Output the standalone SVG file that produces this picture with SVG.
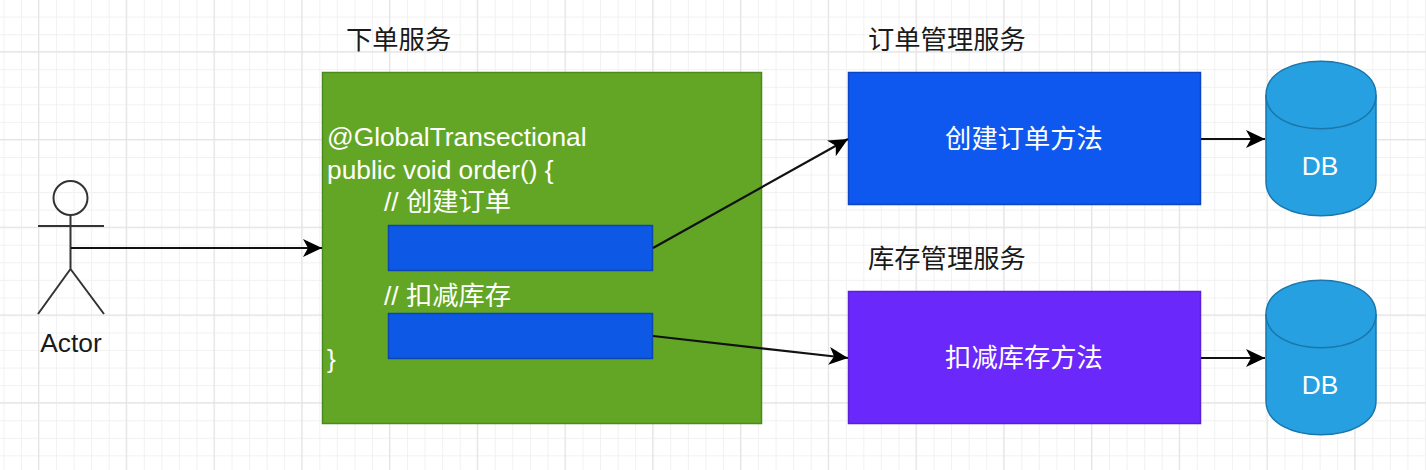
<svg xmlns="http://www.w3.org/2000/svg" width="1426" height="470" viewBox="0 0 1426 470">
<style>
text{font-family:"Liberation Sans","Noto Sans CJK SC",sans-serif;font-size:26.3px}
.w{fill:#fff}
.k{fill:#1a1a1a}
.m{text-anchor:middle}
.c{fill:none;stroke:#111;stroke-width:2.2}
.db{fill:#26a0e0;stroke:#1a76ab;stroke-width:1.5}
.actor{fill:none;stroke:#333;stroke-width:2}
</style>
<defs>
<pattern id="minor" width="17.55" height="17.55" patternUnits="userSpaceOnUse" x="3.4" y="16.6"><path d="M0.5 0V17.55M0 0.5H17.55" fill="none" stroke="#f1f1f1" stroke-width="1"/></pattern>
<pattern id="major" width="87.75" height="87.75" patternUnits="userSpaceOnUse" x="38" y="51.2"><path d="M0.5 0V87.75M0 0.5H87.75" fill="none" stroke="#e4e4e4" stroke-width="1.3"/></pattern>
<marker id="arr" markerUnits="userSpaceOnUse" markerWidth="20" markerHeight="20" refX="19" refY="10" orient="auto"><path d="M0 1L19 10L0 19L5 10Z" fill="#000"/></marker>
</defs>
<rect width="1426" height="470" fill="#fff"/>
<rect width="1426" height="470" fill="url(#minor)"/>
<rect width="1426" height="470" fill="url(#major)"/>
<g id="actor"><circle class="actor" cx="70.500" cy="198" r="17"/><path class="actor" d="M70.500 215V269M38 226H104M70.500 269L38 314M70.500 269L104 314"/><text class="k m" x="71" y="352">Actor</text></g>
<g id="order-service"><text class="k" x="346" y="49">下单服务</text>
<rect x="322.500" y="72.500" width="439" height="351" fill="#63a625" stroke="#4a8a1c" stroke-width="1.5"/>
<text class="w" x="327" y="146">@GlobalTransectional</text><text class="w" x="327" y="179">public void order() {</text><text class="w" x="384" y="211">// 创建订单</text><text class="w" x="384" y="305">// 扣减库存</text><text class="w" x="327" y="368">}</text></g>
<g id="create-call"><rect x="388.500" y="225.500" width="264" height="45" fill="#0e58e6" stroke="#0b45b5" stroke-width="1.5"/></g>
<g id="deduct-call"><rect x="388.500" y="313.500" width="264" height="45" fill="#0e58e6" stroke="#0b45b5" stroke-width="1.5"/></g>
<g id="order-mgmt"><text class="k" x="868" y="49">订单管理服务</text><rect x="848.500" y="72.500" width="352" height="132" fill="#0e58ef" stroke="#0b45c5" stroke-width="1.5"/><text class="w m" x="1024" y="148">创建订单方法</text></g>
<g id="stock-mgmt"><text class="k" x="868" y="268">库存管理服务</text><rect x="848.500" y="291.500" width="352" height="132" fill="#6a28fb" stroke="#5a1fd8" stroke-width="1.5"/><text class="w m" x="1024" y="367">扣减库存方法</text></g>
<g id="db1"><path class="db" d="M1266 95C1266 50 1376 50 1376 95V182C1376 227 1266 227 1266 182Z"/><path class="db" d="M1266 95C1266 140 1376 140 1376 95" fill="none"/><text class="w m" x="1320" y="175">DB</text></g>
<g id="db2"><path class="db" d="M1266 314C1266 269 1376 269 1376 314V401C1376 446 1266 446 1266 401Z"/><path class="db" d="M1266 314C1266 359 1376 359 1376 314" fill="none"/><text class="w m" x="1320" y="394">DB</text></g>
<g id="connectors">
<path class="c" marker-end="url(#arr)" d="M71 248H322"/>
<path class="c" marker-end="url(#arr)" d="M653 248L848 139"/>
<path class="c" marker-end="url(#arr)" d="M653 336L848 358"/>
<path class="c" marker-end="url(#arr)" d="M1201 139H1265"/>
<path class="c" marker-end="url(#arr)" d="M1201 358H1265"/>
</g>
</svg>
